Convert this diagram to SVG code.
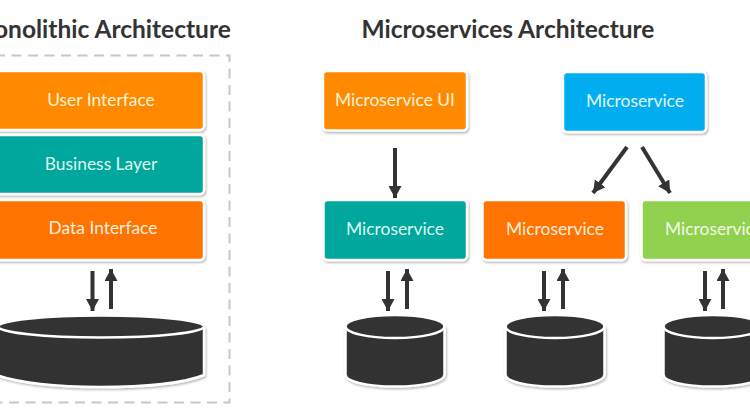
<svg xmlns="http://www.w3.org/2000/svg" width="750" height="415" viewBox="0 0 750 415">
<defs>
<marker id="ah" markerUnits="userSpaceOnUse" markerWidth="13" markerHeight="13" refX="12" refY="6.5" orient="auto"><path d="M0 0L12 6.5L0 13Z" fill="#333"/></marker>
<filter id="sh" x="-5%" y="-10%" width="110%" height="120%"><feDropShadow dx="1" dy="1.5" stdDeviation="1" flood-color="#000" flood-opacity=".3"/></filter>
<g id="cyl"><path d="M-49.500 10V59C-49.500 66 -28 71 0 71C28 71 49.500 66 49.500 59V10" fill="#333" stroke="#fff" stroke-width="2.500" filter="url(#sh)"/><ellipse cx="0" cy="11" rx="49.500" ry="11.500" fill="#333" stroke="#fff" stroke-width="2.500"/></g>
</defs>
<style>
.t{font-family:"Lato","Open Sans",sans-serif;font-weight:700;font-size:24.500px;fill:#333;text-anchor:middle}
.l{font-family:"Lato","Open Sans",sans-serif;font-size:17.400px;text-anchor:middle}
.b{stroke:#fff;stroke-width:2.500;filter:url(#sh)}
.c{fill:none;stroke:#333;stroke-width:4;marker-end:url(#ah)}
</style>
<rect width="750" height="415" fill="#fff"/>
<text class="t" x="101" y="38">Monolithic Architecture</text>
<text class="t" x="508" y="38">Microservices Architecture</text>
<path d="M-5 55.500H229.500V402.500H-5" fill="none" stroke="#c8c8c8" stroke-width="2" stroke-dasharray="10 6.500"/>
<g id="n-ui"><rect class="b" x="-6" y="71" width="210" height="59" rx="4" fill="#ff8a00"/><text class="l" x="101" y="106" fill="#fff2d8">User Interface</text></g>
<g id="n-bl"><rect class="b" x="-6" y="135" width="210" height="59" rx="4" fill="#00a79d"/><text class="l" x="101" y="170" fill="#dff8f4">Business Layer</text></g>
<g id="n-di"><rect class="b" x="-6" y="200" width="210" height="60" rx="4" fill="#ff7300"/><text class="l" x="103" y="234" fill="#ffeedd">Data Interface</text></g>
<g id="db-mono"><path d="M-4 326V375C20 383 60 387 101 387C145 387 185 383 204 375V326" fill="#333" stroke="#fff" stroke-width="2.500" filter="url(#sh)"/><ellipse cx="101" cy="326.500" rx="103" ry="11" fill="#333" stroke="#fff" stroke-width="2.500"/></g>
<g id="n-mui"><rect class="b" x="323" y="71" width="144" height="59.500" rx="4" fill="#ff8a00"/><text class="l" x="395" y="106" fill="#fff2d8">Microservice UI</text></g>
<g id="n-blue"><rect class="b" x="563" y="72" width="143" height="60" rx="4" fill="#00aeef"/><text class="l" x="635" y="107" fill="#e2f6fd">Microservice</text></g>
<g id="n-teal"><rect class="b" x="323.500" y="200" width="143.500" height="60" rx="4" fill="#00a79d"/><text class="l" x="395" y="235" fill="#dff8f4">Microservice</text></g>
<g id="n-orange"><rect class="b" x="482.500" y="200" width="143.500" height="60" rx="4" fill="#ff7300"/><text class="l" x="555" y="235" fill="#ffeedd">Microservice</text></g>
<g id="n-green"><rect class="b" x="641.500" y="200" width="143.500" height="60" rx="4" fill="#92d050"/><text class="l" x="714" y="235" fill="#f1fae6">Microservice</text></g>
<g id="db-1"><use href="#cyl" x="395" y="315.500"/></g>
<g id="db-2"><use href="#cyl" x="555" y="315.500"/></g>
<g id="db-3"><use href="#cyl" x="713" y="315.500"/></g>
<g id="connectors">
<path class="c" d="M92.500 271V311"/><path class="c" d="M111 309V269"/>
<path class="c" d="M395 148V198"/>
<path class="c" d="M388 271V311"/><path class="c" d="M407 309V269"/>
<path class="c" d="M544 271V311"/><path class="c" d="M563 309V269"/>
<path class="c" d="M705 271V311"/><path class="c" d="M723 309V269"/>
<path class="c" d="M627 147L593 193"/><path class="c" d="M642 147L670 193"/>
</g>
</svg>
